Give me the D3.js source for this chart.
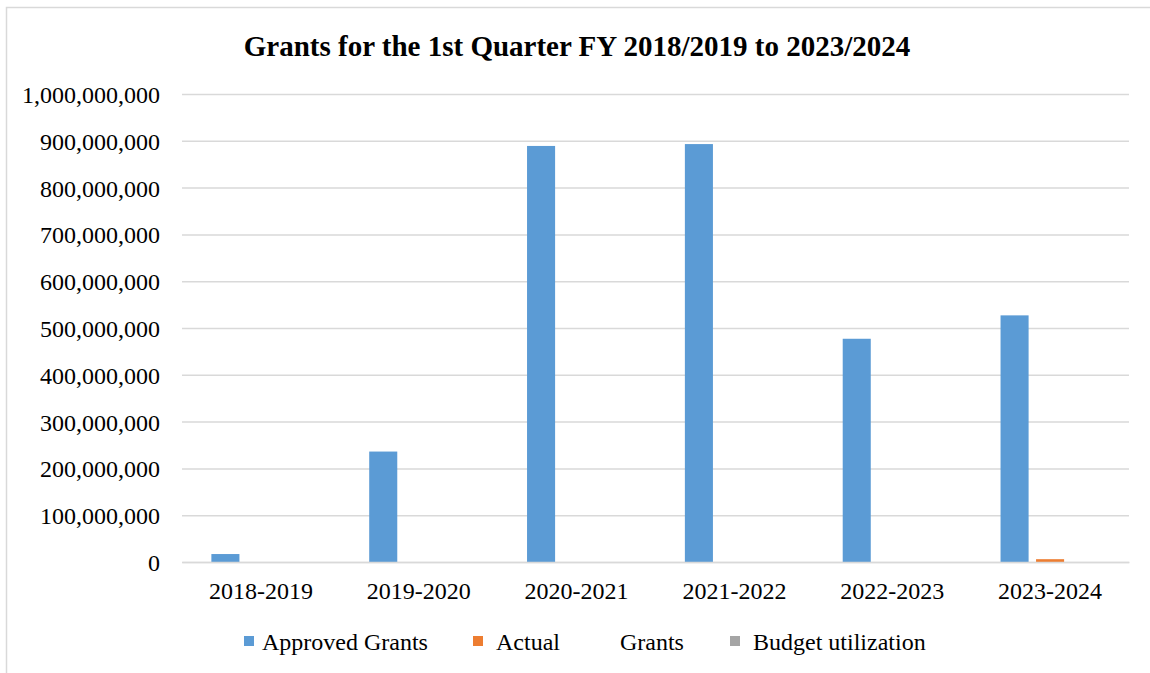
<!DOCTYPE html>
<html>
<head>
<meta charset="utf-8">
<script src="https://cdn.jsdelivr.net/npm/d3@7/dist/d3.min.js"></script>
<style>
  body { margin: 0; background: #fff; }
  text { font-family: "Liberation Serif", "Times New Roman", serif; fill: #000; }
</style>
</head>
<body>
<div id="chart-area"></div>
<script>
// Data
var years = ["2018-2019", "2019-2020", "2020-2021", "2021-2022", "2022-2023", "2023-2024"];
var seriesNames = ["Approved Grants", "Actual          Grants", "Budget utilization"];
var approvedGrants = [17000000, 236000000, 889000000, 893000000, 477000000, 527000000];
var actualGrants = [0, 0, 0, 0, 0, 6000000];
var budgetUtilization = [0, 0, 0, 0, 0, 0];
var yTicks = [0, 100000000, 200000000, 300000000, 400000000, 500000000,
              600000000, 700000000, 800000000, 900000000, 1000000000];
var colors = ["#5b9bd5", "#ed7d31", "#a5a5a5"];

var seriesValues = [approvedGrants, actualGrants, budgetUtilization];

var W = 1150, H = 673;
var margin = { left: 182, right: 21, top: 94, bottom: 111 };
var width = W - margin.left - margin.right,
    height = H - margin.top - margin.bottom;

var svg = d3.select("#chart-area")
    .append("svg")
        .attr("width", W)
        .attr("height", H);

// Chart border
svg.append("rect")
    .attr("x", 6.5)
    .attr("y", 7.5)
    .attr("width", W + 10)
    .attr("height", H + 10)
    .attr("fill", "none")
    .attr("stroke", "#d9d9d9")
    .attr("stroke-width", 1.5);

// Title
svg.append("text")
    .attr("x", 577)
    .attr("y", 56)
    .attr("text-anchor", "middle")
    .attr("font-size", "29px")
    .attr("font-weight", "bold")
    .text("Grants for the 1st Quarter FY 2018/2019 to 2023/2024");

var g = svg.append("g")
    .attr("transform", "translate(" + margin.left + ", " + margin.top + ")");

// Scales
var x0 = d3.scaleBand()
    .domain(years)
    .range([0, width])
    .paddingInner(0.325)
    .paddingOuter(0.1625);

var x1 = d3.scaleBand()
    .domain(d3.range(seriesNames.length))
    .range([0, x0.bandwidth()])
    .paddingInner(0.21)
    .paddingOuter(0.105);

var y = d3.scaleLinear()
    .domain([0, 1000000000])
    .range([height, 0]);

// Gridlines
var yAxisCall = d3.axisLeft(y)
    .tickValues(yTicks)
    .tickSize(-width)
    .tickPadding(22)
    .tickFormat(d3.format(","));
var yAxisGroup = g.append("g")
    .attr("class", "y axis")
    .call(yAxisCall);
yAxisGroup.select(".domain").remove();
yAxisGroup.selectAll("line")
    .attr("stroke", "#d9d9d9")
    .attr("stroke-width", 1.5);
yAxisGroup.selectAll("text")
    .attr("font-size", "24px")
    .attr("font-family", "Liberation Serif")
    .attr("dy", "0.35em");

// Bars
var groups = g.selectAll(".year")
    .data(years)
    .enter()
    .append("g")
        .attr("class", "year")
        .attr("transform", function(d){ return "translate(" + x0(d) + ",0)"; });

groups.selectAll("rect")
    .data(function(d, i){
        return seriesValues.map(function(vals, s){ return { s: s, v: vals[i] }; });
    })
    .enter()
    .append("rect")
        .attr("x", function(d){ return x1(d.s); })
        .attr("y", function(d){ return y(d.v); })
        .attr("width", x1.bandwidth())
        .attr("height", function(d){ return height - y(d.v); })
        .attr("fill", function(d){ return colors[d.s]; });

// X Axis
var xAxisCall = d3.axisBottom(x0)
    .tickSize(0)
    .tickPadding(20);
var xAxisGroup = g.append("g")
    .attr("class", "x axis")
    .attr("transform", "translate(0," + height + ")")
    .call(xAxisCall);
xAxisGroup.select(".domain")
    .attr("stroke", "#d9d9d9")
    .attr("stroke-width", 1.5);
xAxisGroup.selectAll("text")
    .attr("font-size", "24px")
    .attr("font-family", "Liberation Serif");

// Legend
var legendX = [244, 473, 730];
var legend = svg.append("g")
    .attr("class", "legend");

var items = legend.selectAll(".item")
    .data(seriesNames)
    .enter()
    .append("g")
        .attr("class", "item")
        .attr("transform", function(d, i){ return "translate(" + legendX[i] + ",636)"; });

items.append("rect")
    .attr("width", 10)
    .attr("height", 10)
    .attr("fill", function(d, i){ return colors[i]; });

items.append("text")
    .attr("x", function(d, i){ return i == 0 ? 18 : 23; })
    .attr("y", 14)
    .attr("font-size", "24px")
    .style("white-space", "pre")
    .text(function(d){ return d; });
</script>
</body>
</html>
